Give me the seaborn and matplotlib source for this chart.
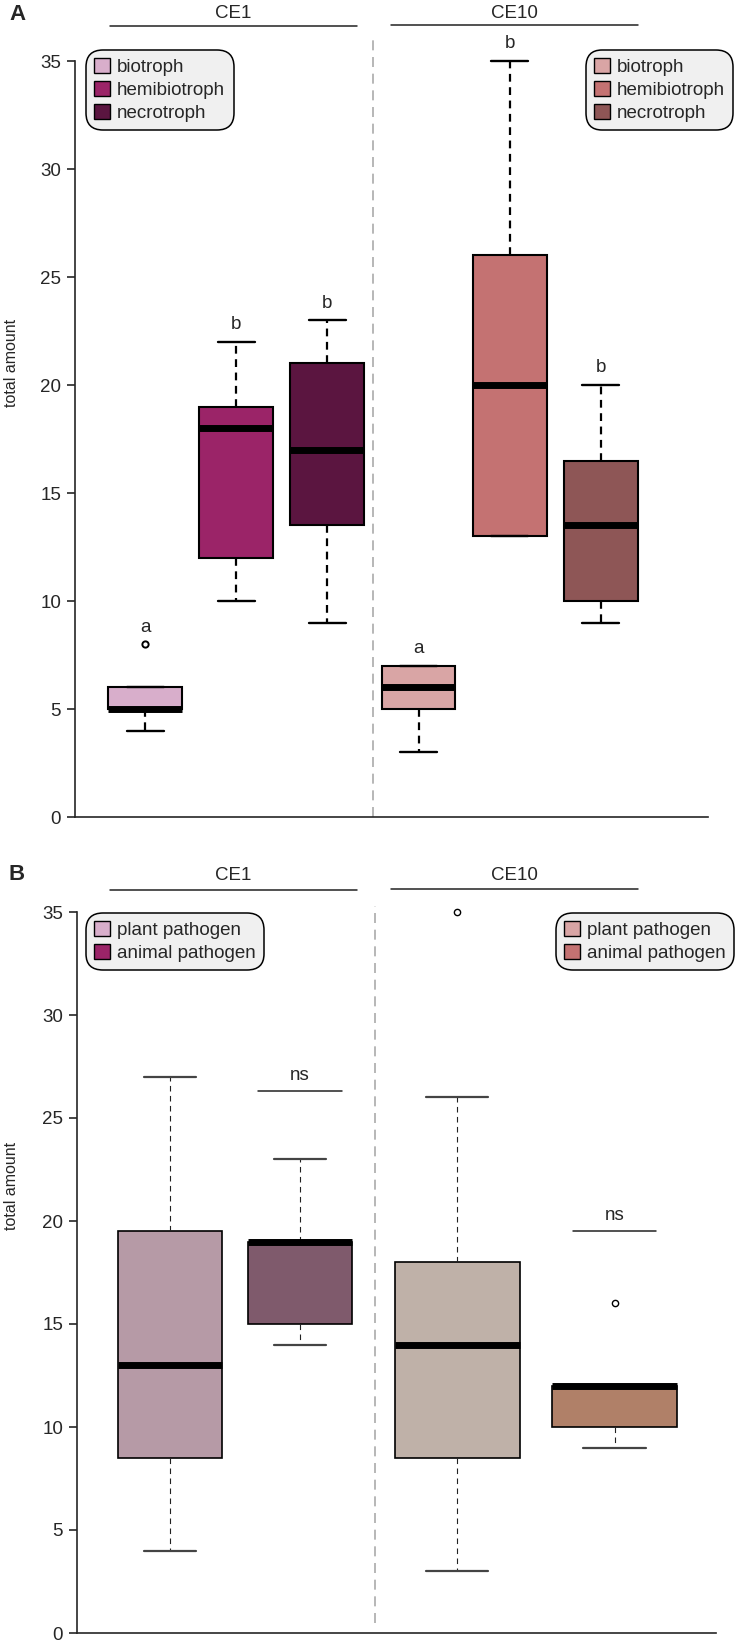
"""
plot.py - trophic mode / pathogen type counts for CE1 vs CE10
Writes out.png
"""

import numpy as np
import matplotlib
matplotlib.use("Agg")
import matplotlib.pyplot as plt
from matplotlib.lines import Line2D
from matplotlib.patches import Patch
import seaborn as sns

# ---------------- DATA ---------------- #
# panel A: trophic modes (values chosen to reproduce the box statistics)
troph_labels = ["biotroph", "hemibiotroph", "necrotroph"]
ce1_biotroph = [4, 5, 5, 5, 5, 5, 6, 6, 8]
ce1_hemibiotroph = [10, 11, 12, 15, 18, 18.5, 19, 20, 22]
ce1_necrotroph = [9, 12, 13.5, 15, 17, 19, 21, 22, 23]
ce10_biotroph = [3, 4, 5, 5.5, 6, 6.5, 7, 7, 7]
ce10_hemibiotroph = [13, 13, 13, 17, 20, 23, 26, 30, 35]
ce10_necrotroph = [9, 9.5, 10, 12, 13.5, 15, 16.5, 18, 20]
letters_a = ["a", "b", "b", "a", "b", "b"]

# panel B: pathogen type
path_labels = ["plant pathogen", "animal pathogen"]
ce1_plant = [4, 6, 8.5, 11, 13, 16, 19.5, 23, 27]
ce1_animal = [14, 14.5, 15, 17, 19, 19, 19, 21, 23]
ce10_plant = [3, 6, 8.5, 11, 14, 16, 18, 26, 35]
ce10_animal = [9, 9.5, 10, 11, 12, 12, 12, 12, 16]
sig_b = ["ns", "ns"]

groups = ["CE1", "CE10"]
yticks = [0, 5, 10, 15, 20, 25, 30, 35]

# ---------------- STYLE ---------------- #
colors_a = ["#D8AECB", "#9B2468", "#5B1540", "#D9A5A5", "#C47272", "#8E5656"]
colors_b = ["#B69AA6", "#7F5A6C", "#BFB1A8", "#B08068"]
legend_b_colors = [["#D8AECB", "#9B2468"], ["#D9A5A5", "#C47272"]]
pos_a = [1, 2, 3, 4, 5, 6]
width_a = 0.81
pos_b = [1.0, 2.0, 3.21, 4.42]
width_b = [0.8, 0.8, 0.96, 0.96]
FS = 13.5

W, H = 739, 1645

sns.set_style("ticks")
plt.rcParams["font.family"] = ["Liberation Sans", "DejaVu Sans"]

fig = plt.figure(figsize=(W / 100, H / 100), dpi=100)

axA = fig.add_axes([75 / W, 1 - 817 / H, 633 / W, 756 / H])
axB = fig.add_axes([77 / W, 1 - 1633 / H, 639 / W, 721 / H])


def draw_box(ax, pos, vals, color, width, thin=False):
    lw = 1.2 if thin else 1.5
    if thin:
        wprops = dict(linestyle=(0, (5, 4)), linewidth=0.8, color="#222222")
        cprops = dict(linewidth=1.6, color="#444444")
        fprops = dict(marker="o", markersize=4.5, markerfacecolor="none",
                      markeredgecolor="black", markeredgewidth=1.0)
    else:
        wprops = dict(linestyle=(0, (3.5, 2.5)), linewidth=1.6, color="black")
        cprops = dict(linewidth=1.7, color="black")
        fprops = dict(marker="o", markersize=4.5, markerfacecolor="none",
                      markeredgecolor="black", markeredgewidth=1.4)
    sns.boxplot(x=np.full(len(vals), pos), y=vals, native_scale=True,
                width=width, color=color, saturation=1, linecolor="black",
                linewidth=lw, whis=1.5, ax=ax,
                whiskerprops=wprops, capprops=cprops, flierprops=fprops,
                medianprops=dict(linewidth=5, color="black",
                                 solid_capstyle="butt"))


def style_axis(ax, xlim):
    ax.set_xlim(*xlim)
    ax.set_ylim(0, 35)
    ax.set_xticks([])
    ax.set_yticks(yticks)
    ax.tick_params(axis="y", labelsize=FS, length=6, width=1.2, pad=4)
    ax.spines["top"].set_visible(False)
    ax.spines["right"].set_visible(False)
    ax.spines["left"].set_bounds(0, 35)
    ax.spines["left"].set_linewidth(1.2)
    ax.spines["bottom"].set_linewidth(1.2)
    ax.set_xlabel("")
    ax.set_ylabel("total amount", fontsize=11.5)
    # let outliers at the top edge show
    for ln in ax.lines:
        ln.set_clip_on(False)


def header(y_text, y_line, x0, x1, label):
    fig.add_artist(Line2D([x0 / W, x1 / W], [1 - y_line / H] * 2,
                          color="#222222", linewidth=1.1))
    fig.text((x0 + x1) / 2 / W, 1 - y_text / H, label, ha="center",
             va="center", fontsize=FS)


def legend(ax, cols, labels, anchor, loc):
    handles = [Patch(facecolor=c, edgecolor="black", linewidth=1.0) for c in cols]
    leg = ax.legend(handles, labels, loc=loc, bbox_to_anchor=anchor,
                    bbox_transform=fig.transFigure, frameon=True,
                    facecolor="#F0F0F0", edgecolor="black", framealpha=1,
                    fontsize=FS, handlelength=0.85, handleheight=0.85,
                    handletextpad=0.35, labelspacing=0.25, borderpad=0.45,
                    borderaxespad=0)
    leg.get_frame().set_boxstyle("round,pad=0,rounding_size=0.9")
    leg.get_frame().set_linewidth(1.1)
    return leg


# ---------------- PANEL A ---------------- #
data_a = [ce1_biotroph, ce1_hemibiotroph, ce1_necrotroph,
          ce10_biotroph, ce10_hemibiotroph, ce10_necrotroph]
for p, vals, c, lab in zip(pos_a, data_a, colors_a, letters_a):
    draw_box(axA, p, vals, c, width_a)
    axA.text(p, max(vals) + 0.4, lab, ha="center", va="bottom", fontsize=FS,
             clip_on=False)

axA.plot([3.5, 3.5], [0, 36], color="#AAAAAA", linewidth=1.2,
         linestyle=(0, (6, 4)), clip_on=False, zorder=0)
style_axis(axA, (0.231, 7.176))
axA.yaxis.set_label_coords(-0.088, 0.6)

legA1 = legend(axA, colors_a[:3], troph_labels, (86 / W, 1 - 50 / H), "upper left")
axA.add_artist(legA1)
legend(axA, colors_a[3:], troph_labels, (733 / W, 1 - 50 / H), "upper right")

header(13, 26, 110, 357, groups[0])
header(13, 25, 391, 638, groups[1])
fig.text(17 / W, 1 - 15 / H, "A", fontsize=16, fontweight="bold",
         ha="center", va="center")

# ---------------- PANEL B ---------------- #
data_b = [ce1_plant, ce1_animal, ce10_plant, ce10_animal]
for p, vals, c, w in zip(pos_b, data_b, colors_b, width_b):
    draw_box(axB, p, vals, c, w, thin=True)

# ns brackets over the animal pathogen boxes
for p, y, lab in zip([pos_b[1], pos_b[3]], [26.3, 19.5], sig_b):
    axB.plot([p - 0.32, p + 0.32], [y, y], color="#222222", linewidth=1.1,
             clip_on=False)
    axB.text(p, y + 0.35, lab, ha="center", va="bottom", fontsize=FS)

axB.plot([2.58, 2.58], [0.5, 35.3], color="#AAAAAA", linewidth=1.2,
         linestyle=(0, (6, 4)), clip_on=False, zorder=0)
style_axis(axB, (0.285, 5.2))
axB.yaxis.set_label_coords(-0.09, 0.62)

legB1 = legend(axB, legend_b_colors[0], path_labels, (86 / W, 1 - 913 / H), "upper left")
axB.add_artist(legB1)
legend(axB, legend_b_colors[1], path_labels, (734 / W, 1 - 913 / H), "upper right")

header(875, 890, 110, 357, groups[0])
header(875, 889, 391, 638, groups[1])
fig.text(17 / W, 1 - 875 / H, "B", fontsize=16, fontweight="bold",
         ha="center", va="center")

plt.savefig("out.png", dpi=100)
